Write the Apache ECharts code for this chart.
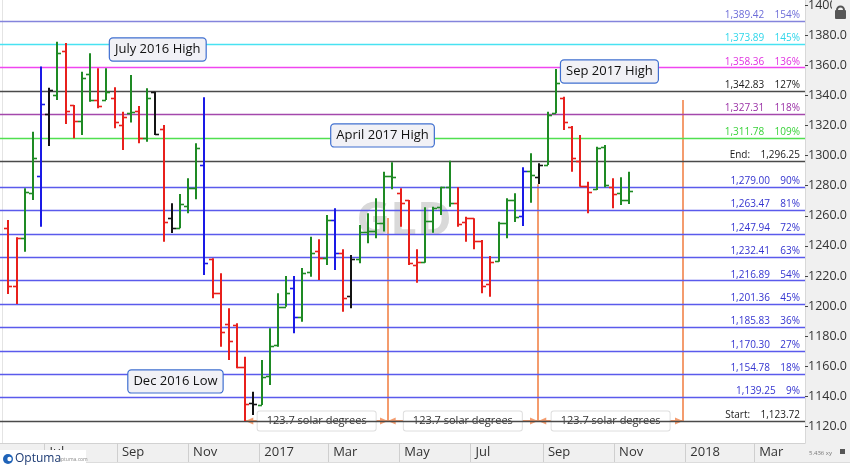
<!DOCTYPE html>
<html><head><meta charset="utf-8">
<script src="https://cdn.jsdelivr.net/npm/echarts@6/dist/echarts.min.js"></script>
<style>html,body{margin:0;padding:0;background:#fff}#c{width:850px;height:466px}</style>
</head><body><div id="c"></div>
<script>
// ---------------- DATA ----------------
const weekEnding = [
'2016-05-27','2016-06-03','2016-06-10','2016-06-17','2016-06-24','2016-07-01','2016-07-08','2016-07-15','2016-07-22','2016-07-29',
'2016-08-05','2016-08-12','2016-08-19','2016-08-26','2016-09-02','2016-09-09','2016-09-16','2016-09-23','2016-09-30','2016-10-07',
'2016-10-14','2016-10-21','2016-10-28','2016-11-04','2016-11-11','2016-11-18','2016-11-25','2016-12-02','2016-12-09','2016-12-16',
'2016-12-23','2016-12-30','2017-01-06','2017-01-13','2017-01-20','2017-01-27','2017-02-03','2017-02-10','2017-02-17','2017-02-24',
'2017-03-03','2017-03-10','2017-03-17','2017-03-24','2017-03-31','2017-04-07','2017-04-14','2017-04-21','2017-04-28','2017-05-05',
'2017-05-12','2017-05-19','2017-05-26','2017-06-02','2017-06-09','2017-06-16','2017-06-23','2017-06-30','2017-07-07','2017-07-14',
'2017-07-21','2017-07-28','2017-08-04','2017-08-11','2017-08-18','2017-08-25','2017-09-01','2017-09-08','2017-09-15','2017-09-22',
'2017-09-29','2017-10-06','2017-10-13','2017-10-20','2017-10-27','2017-11-03','2017-11-10'];
const opens = [
1251.7,1213.6,1245.1,1275.4,1286.6,1327.4,1340.3,1369.5,1333.6,1323.2,
1354.0,1336.9,1336.9,1338.1,1320.3,1328.6,1329.6,1311.5,1342.4,1317.5,
1258.4,1251.7,1266.5,1278.3,1293.8,1231.1,1208.5,1188.1,1187.5,1159.4,
1135.9,1134.3,1153.6,1174.2,1199.6,1211.9,1193.0,1222.9,1236.8,1232.0,
1257.2,1235.1,1206.7,1231.1,1249.5,1250.1,1255.4,1286.5,1275.0,1270.5,
1227.3,1229.5,1256.6,1265.8,1279.0,1268.3,1256.1,1258.4,1243.5,1214.7,
1230.2,1255.4,1270.5,1260.1,1290.0,1285.6,1293.8,1328.5,1338.1,1319.2,
1296.6,1279.8,1277.6,1305.9,1278.9,1275.0,1270.5];
const highs = [
1257.2,1245.7,1278.3,1315.9,1359.1,1345.1,1375.7,1374.8,1333.6,1355.7,
1368.0,1358.0,1358.0,1345.4,1329.2,1353.5,1332.9,1344.7,1342.4,1320.3,
1268.3,1274.5,1284.9,1308.2,1338.7,1231.8,1221.8,1198.6,1188.6,1166.4,
1143.2,1164.2,1185.3,1208.5,1220.0,1220.0,1225.3,1246.1,1244.4,1260.5,
1265.0,1237.8,1234.0,1253.9,1261.7,1271.6,1289.3,1295.5,1278.3,1270.5,
1237.8,1265.7,1266.1,1279.3,1296.6,1278.9,1259.4,1258.4,1243.9,1233.3,
1256.1,1271.6,1275.0,1292.2,1301.5,1294.9,1329.2,1357.6,1339.1,1319.7,
1313.7,1282.7,1305.9,1307.0,1284.9,1285.6,1289.3];
const lows = [
1208.1,1201.4,1236.2,1270.5,1252.8,1306.4,1336.9,1321.0,1311.5,1313.7,
1335.8,1331.4,1336.9,1318.1,1303.7,1321.9,1308.2,1309.2,1313.7,1242.8,
1248.6,1251.7,1261.7,1271.0,1220.7,1205.2,1173.1,1164.2,1158.7,1123.7,
1127.7,1134.3,1147.6,1173.1,1199.6,1182.0,1189.7,1219.6,1217.4,1227.3,
1224.0,1196.3,1198.6,1228.5,1241.7,1245.1,1249.5,1277.6,1252.8,1227.3,
1215.6,1228.9,1248.8,1260.5,1266.1,1252.8,1242.8,1237.8,1208.5,1206.3,
1229.5,1245.1,1255.9,1253.2,1268.7,1281.1,1293.8,1328.1,1317.0,1289.3,
1279.3,1261.7,1277.2,1278.9,1265.0,1267.2,1267.9];
const closes = [
1213.6,1245.1,1276.0,1298.6,1334.1,1343.6,1368.0,1329.8,1323.2,1351.7,
1336.9,1332.9,1342.4,1322.5,1325.8,1329.2,1311.5,1338.1,1314.5,1256.1,
1251.7,1267.9,1278.3,1304.8,1228.9,1208.9,1183.0,1177.1,1159.8,1135.0,
1135.0,1153.1,1173.7,1199.6,1208.5,1193.0,1221.8,1235.1,1232.0,1257.2,
1235.1,1205.2,1231.1,1249.5,1250.1,1255.4,1286.5,1286.0,1268.7,1228.5,
1229.5,1256.6,1265.5,1279.0,1268.3,1254.6,1258.4,1243.5,1213.4,1229.5,
1255.5,1270.5,1259.4,1289.8,1287.1,1293.8,1327.0,1348.0,1322.5,1298.2,
1279.8,1276.0,1304.8,1280.5,1274.5,1270.5,1276.7];
// bar colour class: r = red, g = green, b = blue, k = black
const barClass = [
'r','r','g','g','b','k','g','r','r','g',
'g','r','g','r','r','g','r','g','k','r',
'k','g','g','g','b','r','r','r','r','r',
'k','g','g','g','g','b','g','g','r','g',
'b','r','k','g','g','g','g','g','r','r',
'r','g','g','g','g','r','r','r','r','r',
'g','g','g','b','g','k','g','g','r','r',
'r','r','g','g','r','g','g'];

const levelValues = [1389.42,1373.89,1358.36,1342.83,1327.31,1311.78,1296.25,1279.00,1263.47,1247.94,1232.41,1216.89,1201.36,1185.83,1170.30,1154.78,1139.25,1123.72];
const levelTags = ['154%','145%','136%','127%','118%','109%','End','90%','81%','72%','63%','54%','45%','36%','27%','18%','9%','Start'];

const yTickValues = [1120,1140,1160,1180,1200,1220,1240,1260,1280,1300,1320,1340,1360,1380,1400];
const monthTickDates = ['2016-07-01','2016-09-01','2016-11-01','2017-01-01','2017-03-01','2017-05-01','2017-07-01','2017-09-01','2017-11-01','2018-01-01','2018-03-01'];
const monthTickLabels = ['Jul','Sep','Nov','2017','Mar','May','Jul','Sep','Nov','2018','Mar'];

const cycleDates = ['2016-12-16','2017-04-17','2017-08-24','2017-12-26'];
const cycleTops = [1258.5,1281.0,1337.0];
const cycleLevel = 1123.72;
const cycleText = '123.7 solar degrees';

const noteTexts = ['July 2016 High','April 2017 High','Sep 2017 High','Dec 2016 Low'];
const noteDates = ['2016-10-06','2017-04-16T14:00','2017-10-28','2016-10-21T04:00'];
const noteValues = [1370.5,1313.4,1355.9,1150.0];

// ---------------- STYLE ----------------
const DAY = 86400000;
const ts = s => Date.parse(s.length === 10 ? s + 'T00:00:00Z' : s + ':00Z');
const barShift = 4 * DAY; // weekly bar drawn in its slot after the week end
const palette = { r: '#e8201c', g: '#1e8a24', b: '#1a1ae6', k: '#141414' };
const levelColors = ['#8484dc','#48e2f2','#f046f0','#4a4a4a','#a448ac','#50e050','#4a4a4a',
  '#5a5aec','#5a5aec','#5a5aec','#5a5aec','#5a5aec','#5a5aec','#5a5aec','#5a5aec','#5a5aec','#5a5aec','#4a4a4a'];
const levelTextColors = ['#6c6cd8','#30d6ea','#e030e0','#1a1a1a','#9a30a6','#3ad23a','#1a1a1a',
  '#3434d0','#3434d0','#3434d0','#3434d0','#3434d0','#3434d0','#3434d0','#3434d0','#3434d0','#3434d0','#1a1a1a'];
const orange = '#f49c6e';
const FONT = 'Open Sans';

const fmt = v => v.toLocaleString('en-US', { minimumFractionDigits: 2, maximumFractionDigits: 2 });
const levelLabel = (v, tag) => tag === 'End' ? 'End:    ' + fmt(v) : tag === 'Start' ? 'Start:    ' + fmt(v) : fmt(v) + '    ' + tag;

const monthTs = monthTickDates.map(ts);

const chart = echarts.init(document.getElementById('c'), null, { renderer: 'canvas' });

const option = {
  animation: false,
  backgroundColor: '#ffffff',
  textStyle: { fontFamily: FONT },
  grid: { left: 0, right: 45, top: 0, bottom: 23, containLabel: false, outerBoundsMode: 'none' },
  xAxis: {
    type: 'value',
    min: ts('2016-05-23T19:55'),
    max: ts('2018-04-13T13:41'),
    axisLine: { show: true, lineStyle: { color: '#d2d2d2', width: 1 } },
    axisTick: { show: true, customValues: monthTs, length: 19, inside: false, lineStyle: { color: '#cfcfcf' } },
    axisLabel: {
      customValues: monthTs,
      formatter: v => { const i = monthTs.indexOf(v); return i >= 0 ? monthTickLabels[i] : ''; },
      align: 'left', padding: [0, 0, 0, 5], margin: 3,
      color: '#333', fontSize: 13, fontFamily: FONT
    },
    splitLine: { show: false }
  },
  yAxis: {
    type: 'value', position: 'right',
    min: 1109.1, max: 1403.35,
    axisLine: { show: true, lineStyle: { color: '#d8d8d8' } },
    axisTick: { show: true, customValues: yTickValues, length: 3, inside: false, lineStyle: { color: '#444' } },
    axisLabel: { customValues: yTickValues, formatter: v => v.toFixed(1), color: '#333', fontSize: 12.5, fontFamily: FONT, margin: 3 },
    splitLine: { show: false }
  },
  graphic: [
    { type: 'rect', z: -10, silent: true, shape: { x: 805, y: 0, width: 45, height: 443 }, style: { fill: '#f0f0f0' } },
    { type: 'rect', z: -10, silent: true, shape: { x: 0, y: 443, width: 850, height: 19 }, style: { fill: '#f0f0f0' } },
    { type: 'line', z: -9, silent: true, shape: { x1: 0, y1: 462.5, x2: 850, y2: 462.5 }, style: { stroke: '#dcdcdc', lineWidth: 1 } },
    { type: 'line', z: -9, silent: true, shape: { x1: 2.5, y1: 0, x2: 2.5, y2: 443 }, style: { stroke: '#e4e4e4', lineWidth: 1 } },
    { type: 'text', z: 1, silent: true, x: 404, y: 222, style: { text: 'GLD', font: 'bold 47px ' + FONT, fill: '#d9d9d9', align: 'center', verticalAlign: 'middle' } },
    { type: 'rect', z: 100, silent: true, shape: { x: 0, y: 450, width: 86, height: 16 }, style: { fill: '#ffffff' } },
    { type: 'circle', z: 101, silent: true, shape: { cx: 8, cy: 459, r: 5 }, style: { fill: '#1f63b8' } },
    { type: 'circle', z: 102, silent: true, shape: { cx: 9.5, cy: 459, r: 2.2 }, style: { fill: '#ffffff' } },
    { type: 'text', z: 101, silent: true, x: 15, y: 459, style: { text: 'Optuma', font: '12px ' + FONT, fill: '#1d3b74', verticalAlign: 'middle' } },
    { type: 'text', z: 101, silent: true, x: 58, y: 460, style: { text: 'optuma.com', font: '5px ' + FONT, fill: '#8a8a8a', verticalAlign: 'middle' } },
    { type: 'text', z: 101, silent: true, x: 809, y: 453, style: { text: '5.436 xy', font: '6px ' + FONT, fill: '#777', verticalAlign: 'middle' } },
    { type: 'rect', z: 101, silent: true, shape: { x: 840, y: 449, width: 5, height: 5 }, style: { fill: '#555' } },
    { type: 'rect', z: 100, silent: true, shape: { x: 832, y: 0, width: 18, height: 22 }, style: { fill: '#f0f0f0' } },
    { type: 'arc', z: 101, silent: true, shape: { cx: 840.5, cy: 10, r: 3.5, startAngle: Math.PI, endAngle: 2 * Math.PI }, style: { stroke: '#555', lineWidth: 2, fill: null } },
    { type: 'rect', z: 101, silent: true, shape: { x: 835, y: 10, width: 11, height: 9, r: 1 }, style: { fill: '#555' } }
  ],
  series: [
    {
      name: 'levels', type: 'line', data: [], z: 3, silent: true,
      markLine: {
        silent: true, symbol: ['none', 'none'], animation: false,
        data: levelValues.map((v, i) => ({
          yAxis: v,
          lineStyle: { color: levelColors[i], width: 1.4, type: 'solid' },
          label: {
            show: true, position: 'insideEndTop', distance: [5, 1],
            formatter: levelLabel(v, levelTags[i]),
            color: levelTextColors[i], fontSize: 10, fontFamily: FONT
          }
        }))
      }
    },
    {
      name: 'cycles', type: 'custom', z: 4, silent: true, clip: false,
      data: cycleTops.map((top, i) => [ts(cycleDates[i]) + barShift, ts(cycleDates[i + 1]) + barShift, cycleLevel, top]),
      encode: { x: [0, 1], y: [2, 3] },
      renderItem(params, api) {
        const p0 = api.coord([api.value(0), api.value(2)]);
        const p1 = api.coord([api.value(1), api.value(2)]);
        const pt = api.coord([api.value(1), api.value(3)]);
        const y = Math.round(p0[1]);
        const x0 = p0[0], x1 = Math.round(p1[0]);
        const mid = (x0 + x1) / 2;
        return {
          type: 'group',
          children: [
            { type: 'line', shape: { x1: x1, y1: y, x2: x1, y2: pt[1] }, style: { stroke: orange, lineWidth: 2 } },
            { type: 'line', shape: { x1: x0, y1: y, x2: x1, y2: y }, style: { stroke: orange, lineWidth: 2 } },
            { type: 'polygon', shape: { points: [[x0, y], [x0 + 8, y - 3.5], [x0 + 8, y + 3.5]] }, style: { fill: orange } },
            { type: 'polygon', shape: { points: [[x1, y], [x1 - 8, y - 3.5], [x1 - 8, y + 3.5]] }, style: { fill: orange } },
            { type: 'text', x: mid, y: y, style: {
                text: cycleText, font: '11px ' + FONT, fill: '#333', align: 'center', verticalAlign: 'middle',
                backgroundColor: '#ffffff', borderColor: '#dedede', borderWidth: 1, borderRadius: 2, padding: [4, 9, 4, 9]
            } }
          ]
        };
      }
    },
    {
      name: 'GLD', type: 'custom', z: 5, silent: true, clip: false,
      data: weekEnding.map((d, i) => [ts(d) + barShift, opens[i], highs[i], lows[i], closes[i], i]),
      encode: { x: 0, y: [1, 2, 3, 4] },
      renderItem(params, api) {
        const t = api.value(0);
        const i = api.value(5);
        const pO = api.coord([t, api.value(1)]);
        const pH = api.coord([t, api.value(2)]);
        const pL = api.coord([t, api.value(3)]);
        const pC = api.coord([t, api.value(4)]);
        const x = Math.round(pH[0]);
        const col = palette[barClass[i]];
        return {
          type: 'group',
          children: [
            { type: 'line', shape: { x1: x, y1: pH[1], x2: x, y2: pL[1] }, style: { stroke: col, lineWidth: 2 } },
            { type: 'line', shape: { x1: x - 4, y1: Math.round(pO[1]) + 0.5, x2: x, y2: Math.round(pO[1]) + 0.5 }, style: { stroke: col, lineWidth: 1.6 } },
            { type: 'line', shape: { x1: x, y1: Math.round(pC[1]) + 0.5, x2: x + 4, y2: Math.round(pC[1]) + 0.5 }, style: { stroke: col, lineWidth: 1.6 } }
          ]
        };
      }
    },
    {
      name: 'notes', type: 'custom', z: 6, silent: true, clip: false,
      data: noteTexts.map((s, i) => [ts(noteDates[i]), noteValues[i], i]),
      encode: { x: 0, y: 1 },
      renderItem(params, api) {
        const p = api.coord([api.value(0), api.value(1)]);
        return {
          type: 'text', x: p[0], y: p[1],
          style: {
            text: noteTexts[api.value(2)], font: '13px ' + FONT, fill: '#111',
            align: 'center', verticalAlign: 'middle',
            backgroundColor: '#f1f1f6', borderColor: '#3f6fd0', borderWidth: 1.2, borderRadius: 3,
            padding: [5, 5, 4, 5]
          }
        };
      }
    }
  ]
};
chart.setOption(option);
</script>
</body></html>
